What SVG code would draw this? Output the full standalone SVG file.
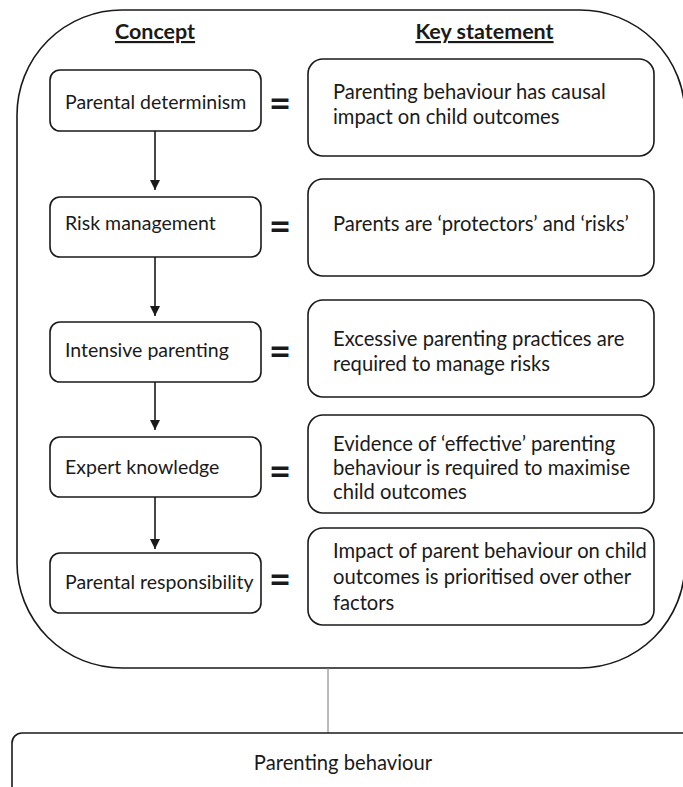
<svg xmlns="http://www.w3.org/2000/svg" width="683" height="787" viewBox="0 0 683 787">
<defs>
<style>
.t{font-family:Lato,"Open Sans","Liberation Sans",sans-serif;font-size:19.5px;fill:#1a1a1a}
.k{font-family:Lato,"Open Sans","Liberation Sans",sans-serif;font-size:20.2px;fill:#1a1a1a}
.h{font-family:Lato,"Open Sans","Liberation Sans",sans-serif;font-size:21.5px;font-weight:bold;fill:#1a1a1a;text-decoration:underline}
.eq{font-family:Lato,"Liberation Sans",sans-serif;font-size:38px;font-weight:bold;fill:#1a1a1a;text-anchor:middle}
.cb{fill:#fff;stroke:#1a1a1a;stroke-width:1.6}
.kb{fill:#fff;stroke:#1a1a1a;stroke-width:1.6}
.arr{stroke:#1a1a1a;stroke-width:1.6;fill:none;marker-end:url(#ah)}
</style>
<marker id="ah" viewBox="0 0 10 10" refX="10" refY="5" markerWidth="10" markerHeight="11" markerUnits="userSpaceOnUse" orient="auto">
<path d="M0,0 L10,5 L0,10 Z" fill="#1a1a1a"/>
</marker>
</defs>
<rect width="683" height="787" fill="#fff"/>

<g id="outer">
<rect x="17" y="10" width="668" height="658" rx="105" ry="105" fill="none" stroke="#1a1a1a" stroke-width="1.6"/>
<text class="h" x="155" y="39" text-anchor="middle">Concept</text>
<text class="h" x="484.5" y="39" text-anchor="middle">Key statement</text>
</g>

<g id="connectors">
<path class="arr" d="M155,131 V190"/>
<path class="arr" d="M155,257 V316"/>
<path class="arr" d="M155,382 V430"/>
<path class="arr" d="M155,497 V549"/>
<line x1="328" y1="668" x2="328" y2="733" stroke="#777" stroke-width="1"/>
</g>

<g id="c1">
<rect class="cb" x="50" y="70" width="211" height="61" rx="10"/>
<text class="t" x="65" y="109">Parental determinism</text>
</g>
<g id="c2">
<rect class="cb" x="50" y="197" width="211" height="60" rx="10"/>
<text class="t" x="65" y="230">Risk management</text>
</g>
<g id="c3">
<rect class="cb" x="50" y="322" width="211" height="60" rx="10"/>
<text class="t" x="65" y="357">Intensive parenting</text>
</g>
<g id="c4">
<rect class="cb" x="50" y="437" width="211" height="60" rx="10"/>
<text class="t" x="65" y="474">Expert knowledge</text>
</g>
<g id="c5">
<rect class="cb" x="50" y="553" width="211" height="60" rx="10"/>
<text class="t" x="65" y="589">Parental responsibility</text>
</g>

<g id="eq">
<text class="eq" x="280" y="117">=</text>
<text class="eq" x="280" y="240">=</text>
<text class="eq" x="280" y="365">=</text>
<text class="eq" x="280" y="485">=</text>
<text class="eq" x="280" y="593">=</text>
</g>

<g id="k1">
<rect class="kb" x="308" y="59" width="346" height="97" rx="15"/>
<text class="k" x="333" y="99">Parenting behaviour has causal</text>
<text class="k" x="333" y="124">impact on child outcomes</text>
</g>
<g id="k2">
<rect class="kb" x="308" y="179" width="346" height="97" rx="15"/>
<text class="k" x="333" y="231">Parents are ‘protectors’ and ‘risks’</text>
</g>
<g id="k3">
<rect class="kb" x="308" y="300" width="346" height="97" rx="15"/>
<text class="k" x="333" y="346">Excessive parenting practices are</text>
<text class="k" x="333" y="371">required to manage risks</text>
</g>
<g id="k4">
<rect class="kb" x="308" y="415" width="346" height="98" rx="15"/>
<text class="k" x="333" y="451">Evidence of ‘effective’ parenting</text>
<text class="k" x="333" y="475">behaviour is required to maximise</text>
<text class="k" x="333" y="499">child outcomes</text>
</g>
<g id="k5">
<rect class="kb" x="308" y="528" width="346" height="97" rx="15"/>
<text class="k" x="333" y="558">Impact of parent behaviour on child</text>
<text class="k" x="333" y="584">outcomes is prioritised over other</text>
<text class="k" x="333" y="610">factors</text>
</g>

<g id="bottom">
<rect x="12" y="733" width="700" height="90" rx="10" fill="#fff" stroke="#1a1a1a" stroke-width="1.6"/>
<text class="k" x="343" y="770" text-anchor="middle">Parenting behaviour</text>
</g>
</svg>
